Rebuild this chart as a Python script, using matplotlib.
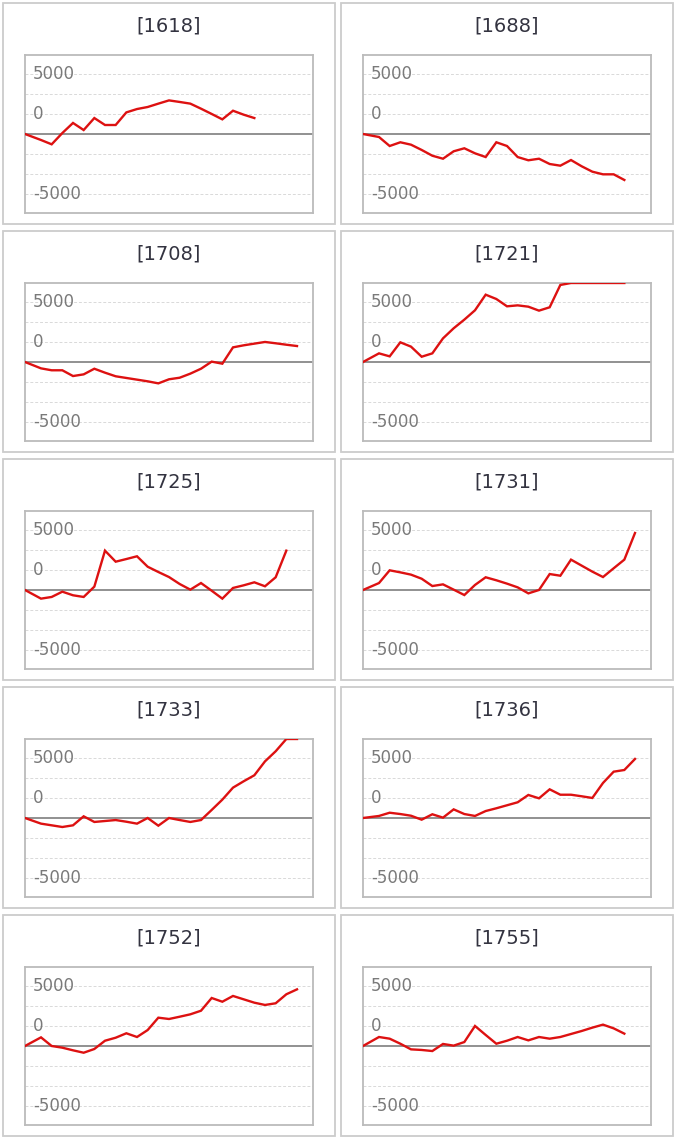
import numpy as np
import matplotlib
matplotlib.use("Agg")
import matplotlib.pyplot as plt
from matplotlib.patches import Rectangle

titles = ["[1618]", "[1688]", "[1708]", "[1721]", "[1725]",
          "[1731]", "[1733]", "[1736]", "[1752]", "[1755]"]

s1618 = [0, -500, -860, 80, 920, 330, 1330, 750, 750, 1800, 2080, 2250, 2530, 2800, 2670,
         2530, 2110, 1670, 1220, 1940, 1610, 1330]
s1688 = [0, -250, -1000, -690, -890, -1330, -1810, -2060, -1440, -1190, -1610, -1920, -690,
         -1000, -1920, -2190, -2060, -2500, -2640, -2170, -2690, -3140, -3360, -3360, -3830]
s1708 = [0, -530, -690, -690, -1170, -1030, -560, -890, -1190, -1330, -1470, -1610, -1780,
         -1440, -1310, -970, -560, 30, -140, 1220, 1390, 1530, 1670, 1560, 1440, 1330]
s1721 = [0, 720, 470, 1640, 1280, 440, 720, 1970, 2810, 3530, 4310, 5610, 5250, 4640, 4720,
         4610, 4280, 4560, 6420, 6610, 7000, 7200, 7400, 7500, 7600]
s1725 = [0, -720, -580, -140, -440, -580, 280, 3280, 2360, 2580, 2810, 1940, 1500, 1080, 500,
         30, 580, -60, -720, 170, 390, 640, 310, 1060, 3280]
s1731 = [0, 580, 1640, 1470, 1280, 940, 330, 470, 30, -420, 420, 1060, 810, 530, 220, -280,
         0, 1330, 1190, 2530, 2030, 1530, 1080, 1810, 2530, 4750]
s1733 = [0, -470, -610, -750, -610, 140, -330, -250, -170, -310, -470, 0, -640, 0, -170, -330,
         -170, 670, 1530, 2530, 3060, 3560, 4720, 5560, 6800, 7500]
s1736 = [0, 170, 440, 330, 190, -140, 310, 30, 720, 330, 170, 580, 810, 1060, 1310, 1920,
         1640, 2390, 1940, 1940, 1810, 1670, 2920, 3860, 4000, 4920]
s1752 = [0, 720, 0, -140, -360, -560, -250, 440, 690, 1060, 750, 1330, 2360, 2250, 2440, 2640,
         2940, 4000, 3690, 4170, 3890, 3610, 3420, 3560, 4310, 4720]
s1755 = [0, 750, 610, 190, -280, -330, -420, 170, 30, 330, 1670, 920, 190, 440, 750, 470, 750,
         610, 750, 1000, 1250, 1530, 1780, 1470, 1030]

series = [s1618, s1688, s1708, s1721, s1725, s1731, s1733, s1736, s1752, s1755]

grid_values = [-5000, -10000 / 3, -5000 / 3, 5000 / 3, 10000 / 3, 5000]
label_values = [5000, 5000 / 3, -5000]
label_texts = ["5000", "0", "-5000"]

W, H = 676, 1140
fig = plt.figure(figsize=(W / 100, H / 100), dpi=100)
fig.patch.set_facecolor("white")

ymax = 6583
ymin = -6583
xmax = 27

def fx(px):
    return px / W

def fy(py):
    return 1 - py / H

for i, (t, s) in enumerate(zip(titles, series)):
    col = i % 2
    row = i // 2
    ox = 3 + col * 338
    oy = 3 + row * 228
    # outer panel border
    fig.patches.append(Rectangle((fx(ox), fy(oy + 221)), 332 / W, 221 / H,
                                 transform=fig.transFigure, fill=False,
                                 edgecolor="#cccccc", linewidth=1.3))
    fig.text(fx(ox + 166), fy(oy + 23), t, ha="center", va="center",
             fontsize=14, color="#333340", family="DejaVu Sans")
    left = ox + 22
    top = oy + 52
    ax = fig.add_axes([fx(left), fy(top + 158), 288 / W, 158 / H])
    ax.set_xlim(0, xmax)
    ax.set_ylim(ymin, ymax)
    for g in grid_values:
        ax.axhline(g, color="#d9d9d9", linewidth=0.7, linestyle=(0, (3, 2)), zorder=1)
    ax.axhline(0, color="#888888", linewidth=1.3, zorder=2)
    for v, lab in zip(label_values, label_texts):
        ax.text(8 / 288, v, lab, transform=ax.get_yaxis_transform(),
                ha="left", va="center", fontsize=12, color="#7a7a7a", zorder=3)
    vals = np.array(s, dtype=float)
    x = np.concatenate([[0.0], np.arange(1, len(vals)) + 0.5])
    ax.plot(x, np.clip(vals, ymin, ymax), color="#dd1111", linewidth=1.7, zorder=4,
            solid_joinstyle="miter")
    ax.set_xticks([])
    ax.set_yticks([])
    for sp in ax.spines.values():
        sp.set_color("#bbbbbb")
        sp.set_linewidth(1.3)

fig.savefig("out.png", dpi=100, facecolor="white")
